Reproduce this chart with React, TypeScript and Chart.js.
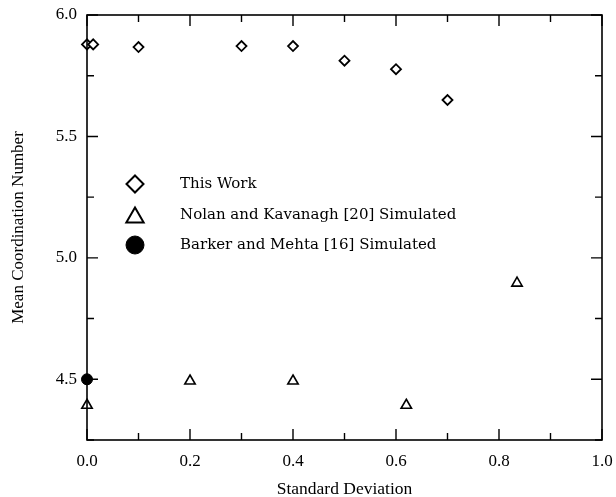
import React, { useEffect, useRef } from "react";
import { Chart, registerables } from "chart.js";

Chart.register(...registerables);

const thisWorkX = [0.0, 0.012, 0.1, 0.3, 0.4, 0.5, 0.6, 0.7];
const thisWorkY = [5.879, 5.879, 5.868, 5.872, 5.872, 5.812, 5.777, 5.65];

const nolanX = [0.0, 0.2, 0.4, 0.62, 0.835];
const nolanY = [4.393, 4.493, 4.493, 4.393, 4.896];

const barkerX = [0.0];
const barkerY = [4.5];

const seriesLabels = [
  "This Work",
  "Nolan and Kavanagh [20] Simulated",
  "Barker and Mehta [16] Simulated",
];

const xTicks = [0.0, 0.2, 0.4, 0.6, 0.8, 1.0];
const xMinorTicks = [0.1, 0.3, 0.5, 0.7, 0.9];
const yTicks = [4.5, 5.0, 5.5, 6.0];
const yMinorTicks = [4.25, 4.75, 5.25, 5.75];

const xTitle = "Standard Deviation";
const yTitle = "Mean Coordination Number";

const SERIF = "'Liberation Serif', 'Times New Roman', Times, serif";

const toPoints = (xs: number[], ys: number[]) => xs.map((x, i) => ({ x, y: ys[i] }));

function drawMarker(ctx: CanvasRenderingContext2D, style: string, x: number, y: number, r: number, fill: string, lw: number) {
  ctx.save();
  ctx.beginPath();
  if (style === "rectRot") {
    ctx.moveTo(x, y - r);
    ctx.lineTo(x + r, y);
    ctx.lineTo(x, y + r);
    ctx.lineTo(x - r, y);
    ctx.closePath();
  } else if (style === "triangle") {
    const w = r * Math.sqrt(3) / 2;
    ctx.moveTo(x, y - r);
    ctx.lineTo(x + w, y + r / 2);
    ctx.lineTo(x - w, y + r / 2);
    ctx.closePath();
  } else {
    ctx.arc(x, y, r, 0, Math.PI * 2);
  }
  ctx.fillStyle = fill;
  ctx.fill();
  ctx.lineWidth = lw;
  ctx.strokeStyle = "#000";
  ctx.stroke();
  ctx.restore();
}

const framePlugin = {
  id: "frame",
  afterDatasetsDraw(chart: any) {
    const { ctx, chartArea: a, scales } = chart;
    const xs = scales.x;
    const ys = scales.y;
    ctx.save();
    ctx.strokeStyle = "#000";
    ctx.lineWidth = 1.6;
    ctx.strokeRect(a.left, a.top, a.right - a.left, a.bottom - a.top);
    ctx.lineWidth = 1.4;
    ctx.beginPath();
    const xt = (v: number, len: number) => {
      const px = xs.getPixelForValue(v);
      ctx.moveTo(px, a.bottom);
      ctx.lineTo(px, a.bottom - len);
      ctx.moveTo(px, a.top);
      ctx.lineTo(px, a.top + len);
    };
    const yt = (v: number, len: number) => {
      const py = ys.getPixelForValue(v);
      ctx.moveTo(a.left, py);
      ctx.lineTo(a.left + len, py);
      ctx.moveTo(a.right, py);
      ctx.lineTo(a.right - len, py);
    };
    xTicks.forEach((v) => xt(v, 11));
    xMinorTicks.forEach((v) => xt(v, 7));
    yTicks.forEach((v) => yt(v, 11));
    yMinorTicks.forEach((v) => yt(v, 7));
    ctx.stroke();
    ctx.restore();
  },
};

const legendPlugin = {
  id: "customLegend",
  afterDraw(chart: any) {
    const { ctx } = chart;
    const rows = [184, 215, 245];
    const sizes = [8.5, 10, 9];
    ctx.save();
    chart.data.datasets.forEach((ds: any, i: number) => {
      const my = rows[i] + (ds.pointStyle === "triangle" ? 2.5 : 0);
      drawMarker(ctx, ds.pointStyle, 135, my, sizes[i], ds.backgroundColor, ds.pointStyle === "circle" ? 1 : 2);
      ctx.fillStyle = "#000";
      ctx.font = "15px 'DejaVu Serif'";
      ctx.textBaseline = "middle";
      ctx.textAlign = "left";
      ctx.fillText(ds.label, 180, rows[i]);
    });
    ctx.restore();
  },
};

export default function App() {
  const ref = useRef<HTMLCanvasElement>(null);
  useEffect(() => {
    document.body.style.margin = "0";
    const chart = new Chart(ref.current!, {
      type: "scatter",
      data: {
        datasets: [
          {
            label: seriesLabels[0],
            data: toPoints(thisWorkX, thisWorkY),
            pointStyle: "rectRot",
            pointRadius: 5,
            borderWidth: 1.8,
            borderColor: "#000",
            backgroundColor: "#fff",
            clip: false,
          },
          {
            label: seriesLabels[1],
            data: toPoints(nolanX, nolanY),
            pointStyle: "triangle",
            pointRadius: 6,
            borderWidth: 1.6,
            borderColor: "#000",
            backgroundColor: "#fff",
            clip: false,
          },
          {
            label: seriesLabels[2],
            data: toPoints(barkerX, barkerY),
            pointStyle: "circle",
            pointRadius: 5.5,
            borderWidth: 1,
            borderColor: "#000",
            backgroundColor: "#000",
            clip: false,
          },
        ] as any,
      },
      options: {
        animation: false,
        responsive: false,
        maintainAspectRatio: false,
        layout: { padding: { top: 15, right: 14, left: 0, bottom: 0 } },
        plugins: { legend: { display: false }, tooltip: { enabled: false } },
        scales: {
          x: {
            type: "linear",
            min: 0,
            max: 1,
            grid: { display: false, drawTicks: false },
            border: { display: false },
            afterFit: (s: any) => { s.height = 57; s.paddingLeft = 0; s.paddingRight = 0; },
            afterBuildTicks: (s: any) => { s.ticks = xTicks.map((v) => ({ value: v })); },
            ticks: {
              color: "#000",
              padding: 11,
              font: { family: SERIF, size: 17 },
              callback: (v: any) => Number(v).toFixed(1),
            },
            title: {
              display: true,
              text: xTitle,
              color: "#000",
              font: { family: SERIF, size: 17.5 },
              padding: { top: 0, bottom: -3 },
            },
          },
          y: {
            type: "linear",
            min: 4.25,
            max: 6.0,
            grid: { display: false, drawTicks: false },
            border: { display: false },
            afterFit: (s: any) => { s.width = 87; s.paddingTop = 0; s.paddingBottom = 0; },
            afterBuildTicks: (s: any) => { s.ticks = yTicks.map((v) => ({ value: v })); },
            ticks: {
              color: "#000",
              padding: 10,
              font: { family: SERIF, size: 17 },
              callback: (v: any) => Number(v).toFixed(1),
            },
            title: {
              display: true,
              text: yTitle,
              color: "#000",
              font: { family: SERIF, size: 17 },
              padding: { top: 8, bottom: 0 },
            },
          },
        },
      } as any,
      plugins: [framePlugin, legendPlugin],
    });
    return () => chart.destroy();
  }, []);
  return (
    <div style={{ position: "absolute", left: 0, top: 0, width: 616, height: 497, background: "#fff" }}>
      <canvas ref={ref} width={616} height={497} style={{ width: 616, height: 497 }} />
    </div>
  );
}
